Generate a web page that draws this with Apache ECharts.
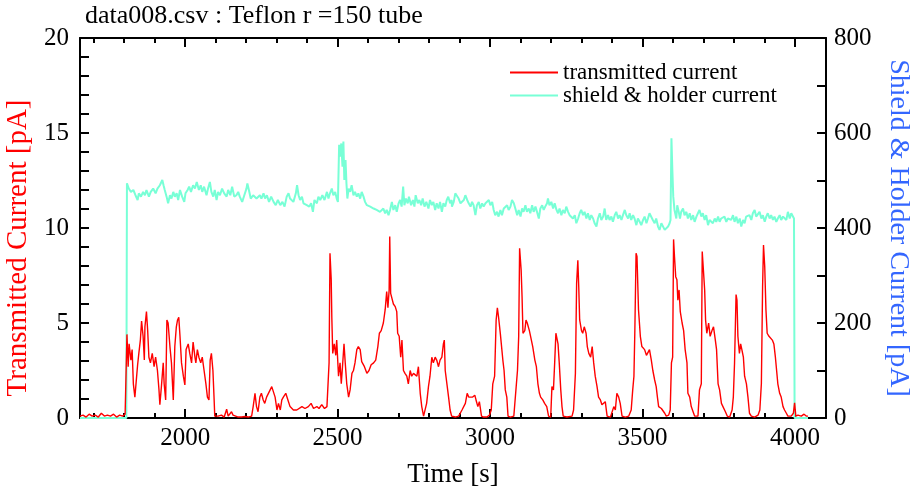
<!DOCTYPE html>
<html>
<head>
<meta charset="utf-8">
<title>data008.csv : Teflon r =150 tube</title>
<script src="https://cdn.jsdelivr.net/npm/echarts@6/dist/echarts.min.js"></script>
<style>
  html, body { margin: 0; padding: 0; background: #fff; }
  #chart { width: 912px; height: 490px; }
</style>
</head>
<body>
<div id="chart"></div>
<script>
// Transmitted current [pA] (left axis): sample times [s] and values
const transmittedTime = [
  1655, 1665, 1675, 1685, 1695, 1705, 1715, 1725, 1735, 1745, 1755, 1765, 1775, 1785, 1795, 1803, 1807,
  1809, 1813, 1816, 1822, 1826, 1830, 1835, 1840, 1844, 1848, 1853, 1857, 1862, 1866, 1868, 1873, 1877, 1881, 1886, 1892,
  1898, 1903, 1909, 1914, 1917, 1922, 1928, 1931, 1936, 1940, 1944, 1950, 1955, 1961, 1966, 1971, 1975, 1979, 1983, 1988,
  1994, 1999, 2003, 2010, 2015, 2021, 2026, 2032, 2035, 2040, 2045, 2051, 2056, 2062, 2068, 2073, 2078, 2082, 2086, 2091,
  2095, 2097, 2108, 2119, 2128, 2136, 2141, 2152, 2157, 2163, 2174, 2185, 2196, 2207, 2218, 2223, 2229, 2234, 2239, 2245,
  2250, 2256, 2261, 2267, 2273, 2284, 2290, 2295, 2301, 2306, 2312, 2317, 2322, 2330, 2337, 2344, 2350, 2355, 2366, 2372,
  2383, 2393, 2404, 2413, 2421, 2432, 2439, 2448, 2457, 2465, 2468, 2472, 2475, 2479, 2481, 2484, 2489, 2494, 2497, 2503,
  2508, 2512, 2516, 2521, 2525, 2530, 2536, 2541, 2547, 2552, 2557, 2563, 2568, 2574, 2579, 2588, 2596, 2603, 2610, 2618,
  2625, 2632, 2637, 2643, 2650, 2656, 2661, 2665, 2669, 2671, 2674, 2679, 2683, 2689, 2694, 2697, 2702, 2707, 2711, 2716,
  2721, 2727, 2732, 2738, 2743, 2749, 2760, 2765, 2771, 2776, 2782, 2787, 2792, 2798, 2803, 2809, 2814, 2820, 2825, 2831,
  2836, 2842, 2847, 2850, 2853, 2858, 2864, 2869, 2874, 2886, 2897, 2908, 2919, 2925, 2930, 2936, 2943, 2950, 2954, 2960,
  2965, 2972, 2979, 2990, 2998, 3004, 3009, 3015, 3020, 3024, 3028, 3034, 3037, 3042, 3046, 3050, 3055, 3059, 3067, 3078,
  3083, 3090, 3094, 3097, 3102, 3105, 3108, 3114, 3118, 3122, 3129, 3133, 3140, 3147, 3152, 3157, 3162, 3166, 3173, 3179,
  3186, 3192, 3199, 3203, 3208, 3212, 3216, 3220, 3223, 3227, 3232, 3236, 3240, 3252, 3269, 3274, 3280, 3284, 3288, 3291,
  3294, 3300, 3304, 3309, 3315, 3319, 3324, 3330, 3335, 3340, 3345, 3351, 3356, 3362, 3367, 3373, 3378, 3384, 3395, 3400,
  3406, 3411, 3416, 3422, 3427, 3433, 3444, 3455, 3463, 3468, 3472, 3475, 3479, 3482, 3487, 3493, 3498, 3502, 3507, 3513,
  3518, 3523, 3529, 3534, 3540, 3545, 3549, 3553, 3562, 3567, 3573, 3578, 3586, 3591, 3595, 3599, 3602, 3605, 3609, 3613,
  3616, 3620, 3624, 3630, 3635, 3640, 3646, 3649, 3655, 3660, 3666, 3671, 3682, 3687, 3693, 3696, 3701, 3704, 3707, 3711,
  3717, 3722, 3728, 3733, 3739, 3743, 3748, 3753, 3759, 3764, 3772, 3778, 3786, 3794, 3798, 3802, 3807, 3810, 3813, 3818,
  3822, 3826, 3831, 3835, 3841, 3846, 3851, 3857, 3868, 3879, 3885, 3890, 3894, 3897, 3901, 3905, 3909, 3915, 3920, 3926,
  3931, 3936, 3940, 3944, 3950, 3955, 3961, 3966, 3972, 3977, 3988, 3995, 3999, 4003, 4010, 4021, 4030, 4037, 4043
];
const transmittedCurrent = [
  0.1, 0.15, 0.05, 0.2, 0.1, 0.15, 0.05, 0.25, 0.1, 0.15, 0.1, 0.2, 0.05, 0.15, 0.1, 0.2, 0.1,
  4.4, 2.7, 3.9, 3.05, 3.6, 1.8, 1.1, 1.1, 2.8, 3.4, 4.1, 5.1, 4.3, 3.05, 4.8, 5.6, 4.6, 3.2, 2.9, 3.4,
  2.7, 3.2, 2.5, 1.5, 0.7, 1.65, 2.9, 1.8, 0.95, 5.16, 5.0, 3.76, 2.9, 0.95, 3.76, 4.8, 5.16, 5.3, 4.3, 2.9,
  2.2, 1.74, 3.6, 3.9, 3.4, 2.9, 4.0, 3.2, 2.9, 3.6, 3.2, 2.9, 3.2, 2.5, 1.8, 1.1, 0.95, 3.05, 3.4, 2.5,
  0.95, 0.1, 0.1, 0.15, 0.05, 0.46, 0.1, 0.33, 0.15, 0.1, 0.05, 0.05, 0.08, 0.05, 0.1, 0.6, 1.3, 0.6, 0.33, 1.1,
  1.3, 0.95, 0.77, 1.1, 1.1, 1.65, 1.74, 1.1, 0.42, 0.77, 0.42, 0.95, 1.1, 1.3, 0.95, 0.6, 0.6, 0.42, 0.42, 0.5,
  0.6, 0.5, 0.6, 0.77, 0.5, 0.6, 0.5, 0.7, 0.5, 0.6, 0.5, 2.9, 8.67, 7.3, 5.3, 3.4, 3.9, 3.3, 4.1, 2.2,
  2.9, 1.8, 2.7, 3.9, 2.9, 1.8, 1.1, 1.48, 2.35, 2.5, 2.9, 3.6, 3.76, 3.6, 2.97, 2.7, 2.35, 2.5, 2.8, 2.9,
  3.05, 3.76, 4.46, 4.6, 5.0, 5.7, 6.65, 5.8, 6.74, 9.55, 6.56, 6.65, 6.0, 5.86, 5.6, 4.46, 4.3, 3.2, 4.1, 2.5,
  2.35, 2.2, 1.8, 2.5, 2.2, 2.35, 2.2, 2.7, 1.3, 0.6, 0.1, 0.15, 0.77, 1.65, 2.2, 3.2, 2.9, 3.2, 3.05, 2.7,
  3.05, 3.2, 3.9, 4.1, 2.5, 2.5, 1.1, 0.42, 0.1, 0.05, 0.1, 0.42, 0.77, 1.3, 1.1, 1.2, 1.1, 1.2, 0.95, 0.6,
  0.86, 0.1, 0.05, 0.05, 0.15, 0.42, 1.8, 2.2, 5.16, 5.8, 5.3, 4.4, 4.3, 3.05, 2.5, 1.48, 1.1, 0.1, 0.05, 0.1,
  0.15, 2.5, 4.3, 8.93, 7.8, 6.4, 4.46, 4.6, 5.16, 5.0, 4.6, 4.3, 3.76, 3.05, 2.7, 1.8, 1.3, 1.1, 0.95, 0.77,
  0.6, 0.1, 0.05, 1.65, 1.48, 2.9, 4.46, 4.55, 3.9, 2.9, 1.48, 0.6, 0.1, 0.05, 0.1, 0.42, 2.35, 7.1, 8.3, 6.9,
  5.16, 4.6, 4.46, 4.8, 4.46, 3.76, 3.4, 3.2, 3.76, 2.9, 2.2, 1.65, 1.1, 0.95, 0.7, 0.6, 0.86, 0.1, 0.05, 0.15,
  0.6, 0.42, 1.3, 1.1, 0.77, 0.1, 0.05, 0.1, 0.42, 1.48, 2.2, 4.6, 8.67, 8.5, 5.7, 4.3, 3.76, 3.76, 3.6, 3.3,
  3.2, 3.6, 3.05, 2.5, 2.0, 1.65, 1.1, 0.6, 0.5, 0.6, 0.25, 0.1, 0.15, 0.42, 2.9, 3.2, 9.4, 8.5, 7.44, 7.27,
  6.2, 6.74, 5.6, 5.0, 4.6, 3.6, 2.9, 1.3, 1.1, 0.6, 0.33, 0.1, 0.1, 1.48, 1.8, 8.76, 8.67, 6.74, 5.16, 4.46,
  5.0, 4.3, 4.6, 4.8, 4.1, 3.6, 1.8, 1.48, 0.77, 0.6, 0.33, 0.1, 0.05, 0.42, 1.1, 2.9, 6.5, 6.2, 4.3, 3.4,
  3.9, 3.6, 3.2, 2.2, 1.8, 1.1, 0.25, 0.1, 0.05, 0.15, 0.42, 1.8, 6.9, 9.1, 7.97, 5.7, 4.46, 4.3, 4.2, 4.1,
  3.9, 3.2, 2.5, 1.8, 1.3, 1.1, 0.6, 0.42, 0.25, 0.1, 0.1, 0.25, 0.8, 0.1, 0.15, 0.1, 0.2, 0.1, 0.1
];

// Shield & holder current [pA] (right axis): sample times [s] and values
const shieldTime = [
  1655, 1807, 1809,
  1811, 1815, 1822, 1830, 1837, 1844, 1848, 1855, 1862, 1868, 1873, 1881, 1887, 1895, 1903, 1909, 1917, 1925, 1929, 1933,
  1939, 1944, 1950, 1955, 1961, 1966, 1972, 1977, 1983, 1990, 1997, 2001, 2008, 2013, 2019, 2026, 2032, 2038, 2045, 2051,
  2056, 2062, 2070, 2075, 2081, 2086, 2092, 2097, 2103, 2108, 2114, 2121, 2128, 2136, 2141, 2148, 2154, 2161, 2168, 2174,
  2179, 2187, 2194, 2201, 2204, 2209, 2215, 2223, 2228, 2234, 2239, 2245, 2250, 2257,
  2262, 2268, 2275, 2282, 2290, 2297, 2304, 2312, 2319, 2326, 2333, 2339, 2344, 2350, 2355, 2363, 2367, 2372, 2377, 2383,
  2388, 2393, 2399, 2407, 2413, 2419, 2424, 2432, 2437, 2443, 2450, 2457, 2465, 2470, 2475, 2481, 2486, 2492, 2497, 2501,
  2505, 2508, 2512, 2516, 2519, 2522, 2526, 2529, 2532, 2536, 2541, 2546, 2552, 2557, 2563, 2568, 2574, 2579, 2585, 2590,
  2596, 2601, 2607, 2612, 2618, 2623, 2628, 2634, 2639, 2645, 2650, 2656, 2661, 2667, 2672, 2678, 2683, 2689, 2694, 2700,
  2705, 2710, 2715, 2719, 2724, 2730, 2734, 2741, 2747, 2752, 2756, 2763, 2768, 2774, 2779, 2785, 2791, 2798, 2803, 2809,
  2814, 2820, 2825, 2831, 2836, 2842, 2847, 2853, 2858, 2863, 2869, 2874,
  2875, 2881, 2886, 2892, 2897, 2903, 2908, 2914, 2919, 2925, 2930, 2936, 2941, 2946, 2952, 2957, 2963, 2968, 2974, 2979,
  2985, 2990, 2996, 3001, 3007, 3012, 3017, 3023, 3028, 3034, 3039, 3045, 3050, 3056, 3061, 3067, 3072, 3078, 3083, 3089,
  3094, 3100, 3105, 3110, 3116, 3121, 3127, 3132, 3138, 3143, 3149, 3154, 3160, 3165, 3171, 3176, 3181, 3187, 3190, 3195,
  3201, 3207, 3212, 3218, 3223, 3228, 3234, 3239, 3245, 3250, 3256, 3261, 3267, 3272, 3278, 3283, 3289, 3294, 3299, 3305,
  3310, 3316, 3321, 3327, 3332, 3338, 3343, 3349, 3354, 3360, 3365, 3371, 3376, 3381, 3387, 3392, 3398, 3403, 3409, 3414,
  3420, 3425, 3431, 3436, 3442, 3447, 3453, 3458, 3463, 3469, 3474, 3480,
  3485, 3491, 3496, 3502, 3507, 3513, 3518, 3523, 3529, 3534, 3540, 3545, 3551, 3556, 3562, 3567, 3573, 3578, 3584, 3589,
  3592, 3595, 3598, 3601, 3605, 3611, 3614, 3619, 3623, 3627, 3633, 3638, 3644, 3649, 3655, 3660, 3666, 3671, 3677, 3682,
  3687, 3693, 3698, 3704, 3709, 3715, 3720, 3726, 3731, 3737, 3742, 3748, 3753, 3758, 3764, 3769, 3775, 3780, 3786, 3791,
  3797, 3802, 3808, 3813, 3819, 3824, 3830, 3835, 3840, 3846, 3851, 3857, 3862, 3868, 3873, 3879, 3884, 3890, 3895, 3901,
  3906, 3911, 3917, 3922, 3928, 3933, 3939, 3944, 3950, 3955, 3961, 3966, 3972, 3977, 3983, 3988, 3993, 3997, 3999, 4043
];
const shieldCurrent = [
  0, 0, 494,
  494, 483, 476, 480, 469, 459, 473, 466, 476, 469, 480, 466, 476, 483, 473, 483, 490, 501, 490, 480,
  466, 452, 469, 462, 476, 466, 473, 459, 480, 466, 455, 473, 480, 487, 476, 490, 483, 497, 480, 490,
  476, 487, 469, 483, 497, 476, 466, 480, 459, 476, 469, 483, 473, 466, 480, 469, 487, 466, 469, 476,
  466, 455, 469, 483, 494, 480, 462, 469, 473, 462, 459, 469, 462, 473,
  462, 469, 455, 466, 455, 448, 459, 448, 455, 445, 466, 473, 462, 466, 455, 473, 490, 469, 459, 466,
  452, 455, 448, 445, 452, 434, 459, 452, 466, 459, 469, 459, 476, 462, 473, 483, 469, 476, 462, 455,
  575, 550, 578, 529, 582, 501, 543, 494, 462, 483, 476, 490, 469, 476, 466, 473, 462, 476, 466, 455,
  448, 452, 445, 448, 441, 445, 438, 441, 434, 438, 441, 431, 438, 427, 438, 455, 438, 448, 434, 452,
  459, 445, 487, 448, 462, 452, 466, 448, 459, 445, 469, 452, 459, 448, 462, 445, 455, 441, 459, 448,
  455, 438, 452, 441, 455, 434, 452, 445, 459, 466, 452, 459,
  445, 455, 473, 476, 462, 452, 448, 459, 469, 459, 452, 445, 455, 448, 427, 448, 455, 441, 452, 445,
  452, 448, 459, 448, 455, 438, 427, 434, 424, 438, 427, 441, 438, 448, 438, 445, 459, 452, 441, 427,
  438, 424, 441, 434, 448, 434, 441, 431, 448, 434, 445, 434, 420, 441, 448, 438, 445, 452, 462, 448,
  455, 441, 452, 438, 431, 441, 427, 438, 431, 445, 434, 427, 431, 420, 427, 410, 420, 431, 438, 427,
  434, 420, 431, 417, 427, 420, 410, 403, 420, 431, 417, 424, 441, 417, 427, 417, 424, 413, 427, 434,
  420, 427, 417, 427, 438, 427, 420, 431, 417, 427, 420, 406,
  420, 413, 406, 417, 424, 410, 420, 431, 434, 417, 410, 420, 403, 396, 410, 406, 396, 399, 403, 410,
  417, 589, 522, 466, 438, 420, 448, 434, 420, 434, 441, 427, 434, 420, 431, 417, 427, 413, 424, 431,
  438, 424, 431, 417, 427, 406, 417, 420, 410, 420, 413, 424, 413, 420, 417, 424, 413, 420, 424, 417,
  427, 413, 424, 410, 420, 403, 417, 410, 424, 420, 427, 417, 431, 438, 424, 427, 434, 420, 427, 413,
  424, 431, 420, 427, 417, 424, 413, 420, 427, 417, 424, 427, 417, 434, 420, 431, 427, 420, 0, 0
];

// Axis ranges, tick spacing and labelled times
const timeRange = [1655, 4102];
const timeLabels = [2000, 2500, 3000, 3500, 4000];
const timeMinorTicks = { step: 100, first: 1700, last: 4100 };
const timeMajorTicks = { step: 500, first: 2000, last: 4000 };
const leftRange = [0, 20];
const rightRange = [0, 800];

const zip = (xs, ys) => xs.map((x, i) => [x, ys[i]]);

const SERIF = '"Liberation Serif", "Times New Roman", serif';
const axisLineStyle = { color: '#000', width: 2 };

const chartEl = document.getElementById('chart');
const chart = echarts.init(chartEl, null, { renderer: 'canvas' });

// Plot frame in pixels from the chart edges
const frame = { left: 80, right: 86, top: 38, bottom: 72 };
const pxPerSecond = (chart.getWidth() - frame.left - frame.right) / (timeRange[1] - timeRange[0]);

// A tick-only grid spanning [first, last] inside the plot frame, so that the
// tick sequence starts on a round time value
function tickGrid(t) {
  return {
    left: frame.left + (t.first - timeRange[0]) * pxPerSecond,
    right: frame.right + (timeRange[1] - t.last) * pxPerSecond,
    top: frame.top,
    bottom: frame.bottom,
    outerBoundsMode: 'none'
  };
}

function tickAxis(gridIndex, position, t, tickLen) {
  return {
    type: 'value',
    gridIndex: gridIndex,
    position: position,
    min: t.first,
    max: t.last,
    interval: t.step,
    axisLine: { show: false },
    axisTick: { show: true, inside: true, length: tickLen,
                lineStyle: { color: '#000', width: 2 } },
    axisLabel: { show: false },
    splitLine: { show: false }
  };
}

function hiddenY(gridIndex) {
  return { type: 'value', gridIndex: gridIndex, show: false, min: 0, max: 1 };
}

chart.setOption({
  animation: false,
  backgroundColor: '#fff',
  title: {
    text: 'data008.csv : Teflon r =150 tube',
    left: 85,
    top: 3,
    padding: 0,
    textStyle: { fontFamily: SERIF, fontSize: 26, fontWeight: 'normal', color: '#000' }
  },
  legend: {
    orient: 'vertical',
    left: 510,
    top: 61,
    padding: 0,
    itemWidth: 48,
    itemHeight: 2,
    itemGap: 0,
    icon: 'rect',
    data: ['transmitted current', 'shield & holder current'],
    textStyle: { fontFamily: SERIF, fontSize: 23, color: '#000' }
  },
  grid: [
    Object.assign({ containLabel: false, outerBoundsMode: 'none' }, frame),
    tickGrid(timeMinorTicks),
    tickGrid(timeMajorTicks)
  ],
  xAxis: [
    {
      type: 'value',
      gridIndex: 0,
      position: 'bottom',
      min: timeRange[0],
      max: timeRange[1],
      name: 'Time [s]',
      nameLocation: 'middle',
      nameGap: 43,
      nameTextStyle: { fontFamily: SERIF, fontSize: 27, color: '#000' },
      axisLine: { show: true, onZero: false, lineStyle: axisLineStyle },
      axisTick: { show: false },
      axisLabel: { show: true, customValues: timeLabels, margin: 8,
                   fontFamily: SERIF, fontSize: 25, color: '#000',
                   formatter: v => String(v) },
      splitLine: { show: false }
    },
    {
      type: 'value',
      gridIndex: 0,
      position: 'top',
      min: timeRange[0],
      max: timeRange[1],
      axisLine: { show: true, onZero: false, lineStyle: axisLineStyle },
      axisTick: { show: false },
      axisLabel: { show: false },
      splitLine: { show: false }
    },
    tickAxis(1, 'bottom', timeMinorTicks, 5),
    tickAxis(1, 'top', timeMinorTicks, 5),
    tickAxis(2, 'bottom', timeMajorTicks, 9),
    tickAxis(2, 'top', timeMajorTicks, 9)
  ],
  yAxis: [
    {
      type: 'value',
      gridIndex: 0,
      position: 'left',
      min: leftRange[0],
      max: leftRange[1],
      interval: 1,
      name: 'Transmitted Current [pA]',
      nameLocation: 'middle',
      nameGap: 43,
      nameTextStyle: { fontFamily: SERIF, fontSize: 29, color: '#ff0000', padding: [0, 40, 0, 0] },
      axisLine: { show: true, lineStyle: axisLineStyle },
      axisTick: { show: true, inside: true, length: 9, lineStyle: { color: '#000', width: 2 } },
      axisLabel: { margin: 11, fontFamily: SERIF, fontSize: 25, color: '#000',
                   formatter: v => (v % 5 === 0 ? String(v) : '') },
      splitLine: { show: false }
    },
    {
      type: 'value',
      gridIndex: 0,
      position: 'right',
      min: rightRange[0],
      max: rightRange[1],
      interval: 100,
      name: 'Shield & Holder Current [pA]',
      nameLocation: 'middle',
      nameRotate: -90,
      nameGap: 58,
      nameTextStyle: { fontFamily: SERIF, fontSize: 28, color: '#3366ff' },
      axisLine: { show: true, lineStyle: axisLineStyle },
      axisTick: { show: true, inside: true, length: 9, lineStyle: { color: '#000', width: 2 } },
      axisLabel: { margin: 8, fontFamily: SERIF, fontSize: 25, color: '#000',
                   formatter: v => (v % 200 === 0 ? String(v) : '') },
      splitLine: { show: false }
    },
    hiddenY(1),
    hiddenY(2)
  ],
  series: [
    {
      name: 'shield & holder current',
      type: 'line',
      xAxisIndex: 0,
      yAxisIndex: 1,
      data: zip(shieldTime, shieldCurrent),
      showSymbol: false,
      symbol: 'none',
      color: '#78ffd6',
      lineStyle: { color: '#78ffd6', width: 2 },
      z: 2
    },
    {
      name: 'transmitted current',
      type: 'line',
      xAxisIndex: 0,
      yAxisIndex: 0,
      data: zip(transmittedTime, transmittedCurrent),
      showSymbol: false,
      symbol: 'none',
      color: '#ff0000',
      lineStyle: { color: '#ff0000', width: 1.4 },
      z: 3
    }
  ]
});
</script>
</body>
</html>
